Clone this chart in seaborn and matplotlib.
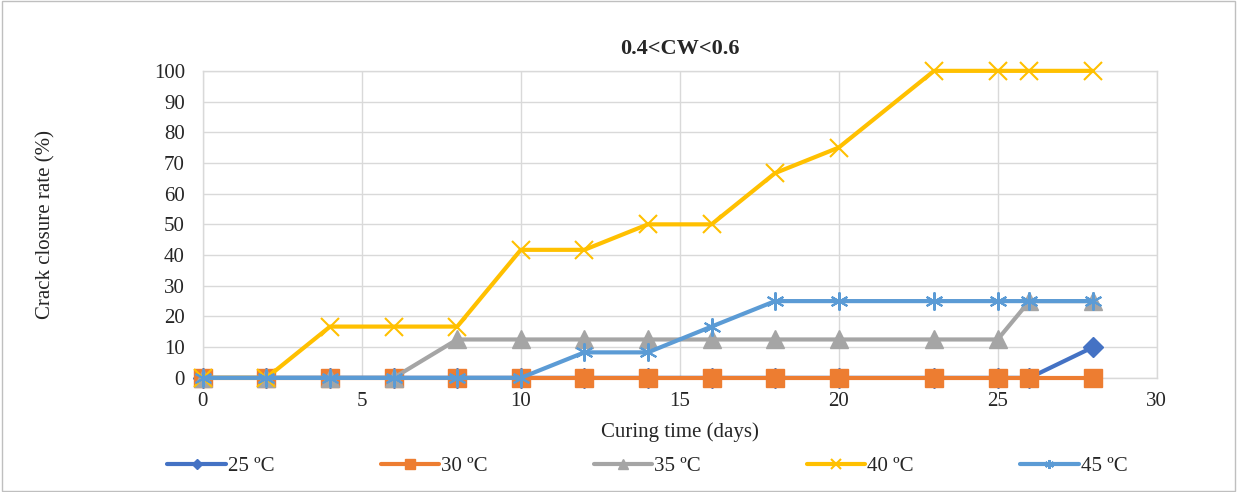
import matplotlib.pyplot as plt
import pandas as pd
import seaborn as sns
from matplotlib.patches import Rectangle

days = [0, 2, 4, 6, 8, 10, 12, 14, 16, 18, 20, 23, 25, 26, 28]
t25 = [0, 0, 0, 0, 0, 0, 0, 0, 0, 0, 0, 0, 0, 0, 10]
t30 = [0, 0, 0, 0, 0, 0, 0, 0, 0, 0, 0, 0, 0, 0, 0]
t35 = [0, 0, 0, 0, 12.5, 12.5, 12.5, 12.5, 12.5, 12.5, 12.5, 12.5, 12.5, 25, 25]
t40 = [0, 0, 16.7, 16.7, 16.7, 41.7, 41.7, 50, 50, 66.7, 75, 100, 100, 100, 100]
t45 = [0, 0, 0, 0, 0, 0, 8.3, 8.3, 16.7, 25, 25, 25, 25, 25, 25]
labels = ['25 ºC', '30 ºC', '35 ºC', '40 ºC', '45 ºC']
colors = ['#4472C4', '#ED7D31', '#A5A5A5', '#FFC000', '#5B9BD5']
markers = ['D', 's', '^', 'x', (6, 2, 0)]
msizes = [10, 13, 13, 13, 13]

sns.set_style('white')
plt.rcParams['font.family'] = ['Liberation Serif', 'DejaVu Serif']

df = pd.DataFrame({'day': days, labels[0]: t25, labels[1]: t30, labels[2]: t35,
                   labels[3]: t40, labels[4]: t45})
long = df.melt(id_vars='day', var_name='series', value_name='rate')

fig = plt.figure(figsize=(12.37, 4.92), dpi=100)
ax = fig.add_axes([0.164, 0.232, 0.771, 0.624])

for i, (lab, c, m, ms) in enumerate(zip(labels, colors, markers, msizes)):
    sub = long[long['series'] == lab]
    thin = m == 'x' or isinstance(m, tuple)
    sns.lineplot(data=sub, x='day', y='rate', ax=ax, color=c, marker=m,
                 markersize=ms, linewidth=3, label=lab, clip_on=False, zorder=3 + i,
                 markeredgecolor=c, markeredgewidth=1.5 if thin else 1)

ax.set_xlim(0, 30)
ax.set_ylim(0, 100)
ax.set_xticks(range(0, 31, 5))
ax.set_yticks(range(0, 101, 10))
ax.grid(True, color='#D9D9D9', linewidth=1)
ax.set_axisbelow(True)
for s in ['top', 'right', 'left', 'bottom']:
    ax.spines[s].set_color('#D9D9D9')
    ax.spines[s].set_linewidth(1)
ax.tick_params(axis='both', labelsize=15, length=0)
ax.tick_params(axis='x', pad=10)
ax.tick_params(axis='y', pad=13)
ax.set_xlabel('Curing time (days)', fontsize=15, labelpad=8)
ax.set_ylabel('Crack closure rate (%)', fontsize=15)
ax.yaxis.set_label_coords(-0.155, 0.5)
ax.set_title('0.4<CW<0.6', fontsize=16, fontweight='bold', pad=12)

ax.legend(loc='center', bbox_to_anchor=(0.466, -0.288), ncol=5, frameon=False,
          fontsize=15, handlelength=2.8, columnspacing=5.1, handletextpad=0.1,
          markerscale=0.5)

fig.patches.append(Rectangle((0.002, 0.002), 0.996, 0.996, transform=fig.transFigure,
                             fill=False, edgecolor='#BFBFBF', linewidth=1))
fig.savefig('out.png', dpi=100)
